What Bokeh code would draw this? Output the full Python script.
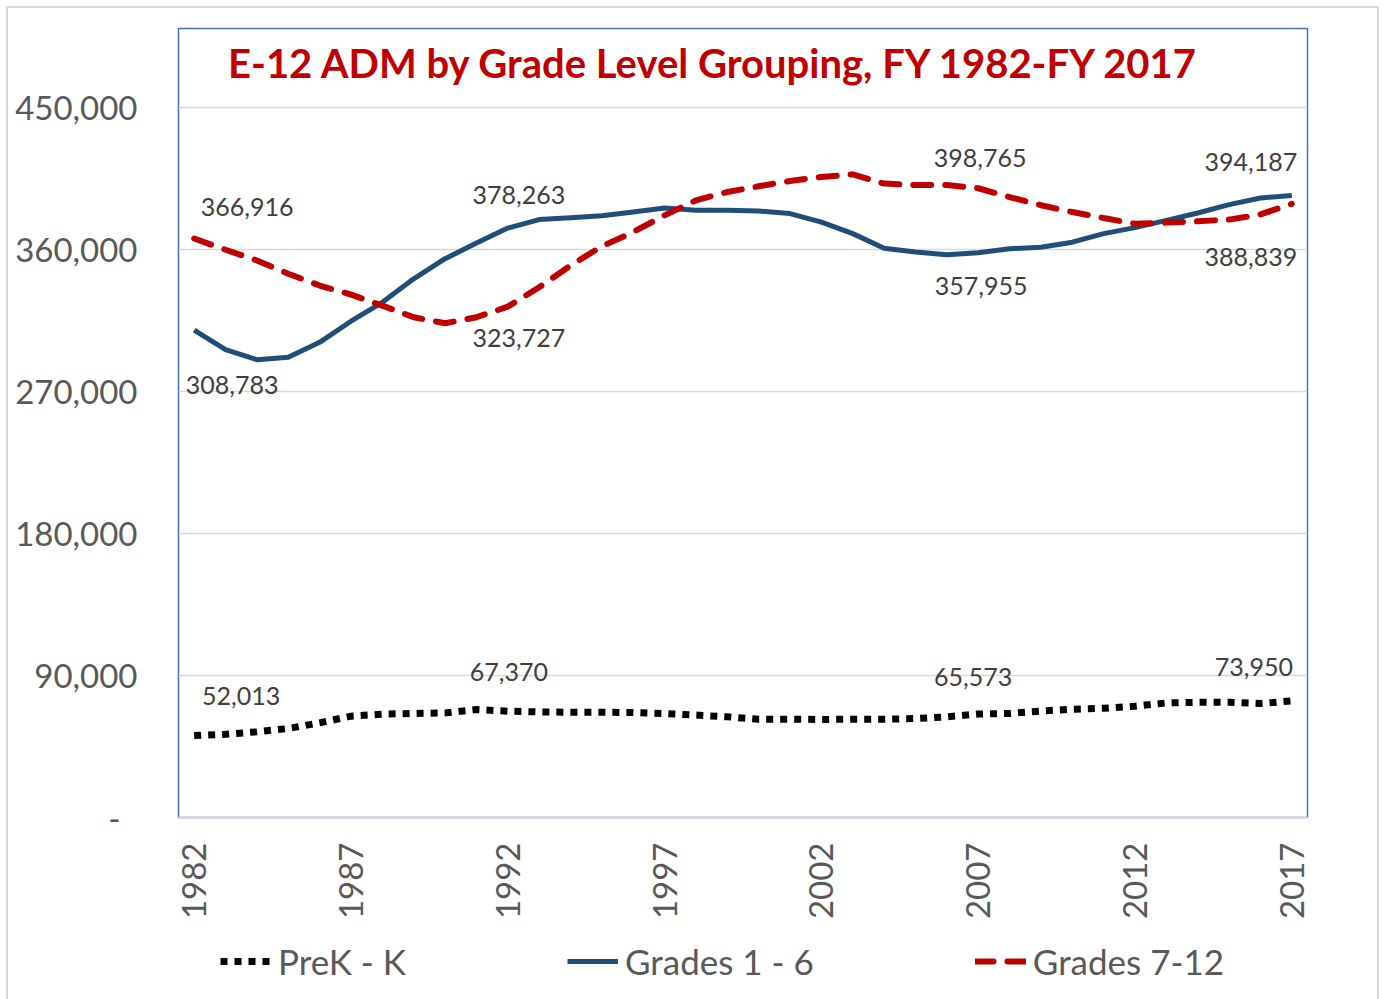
import math
from bokeh.plotting import figure
from bokeh.layouts import column
from bokeh.models import (ColumnDataSource, FixedTicker, NumeralTickFormatter,
                          Legend, LegendItem, Label, Range1d)
from bokeh.embed import file_html
from bokeh.resources import INLINE
from bokeh.core.properties import value

# ---------------- data ----------------
years = list(range(1982, 2018))

prek_k = [52013, 52700, 54300, 56400, 60000, 64200, 65500, 65900, 66300, 68400,
          67370, 66900, 66700, 66700, 66500, 65900, 64900, 63800, 62300, 62300,
          62100, 62300, 62300, 62700, 63800, 65573, 65900, 67500, 68600, 69200,
          70500, 72600, 73000, 73000, 72200, 73950]

grades_1_6 = [308783, 296500, 290100, 291600, 301100, 314500, 326500, 341400, 354100, 364000,
              373500, 378900, 380100, 381300, 383700, 386200, 384800, 384800, 384300, 382700,
              377300, 370000, 360800, 358300, 356600, 357955, 360400, 361400, 364600, 370000,
              373800, 378400, 383100, 388400, 392600, 394187]

grades_7_12 = [366916, 359800, 353000, 344600, 337100, 331400, 324400, 317000, 313200, 317000,
               323727, 336000, 349800, 362000, 371000, 381600, 391100, 396400, 400000, 403400,
               405900, 407600, 401700, 400800, 400800, 398765, 393200, 388000, 383700, 379900,
               376300, 377000, 377800, 378900, 382200, 388839]

series_names = ["PreK - K", "Grades 1 - 6", "Grades 7-12"]

# data labels: (series index, year, labelled value)
label_series = [2, 1, 1, 2, 2, 1, 1, 2, 0, 0, 0, 0]
label_years = [1982, 1982, 1992, 1992, 2007, 2007, 2017, 2017, 1982, 1992, 2007, 2017]
label_values = [366916, 308783, 378263, 323727, 398765, 357955, 394187, 388839,
                52013, 67370, 65573, 73950]

y_ticks = [0, 90000, 180000, 270000, 360000, 450000]
x_ticks = [1982, 1987, 1992, 1997, 2002, 2007, 2012, 2017]
title_text = "E-12 ADM by Grade Level Grouping, FY 1982-FY 2017"

# ---------------- styling ----------------
FONT = "Lato"
AXIS_COLOR = "#595959"
LABEL_COLOR = "#404040"
GRID = "#d9d9d9"
C_PREK = "black"
C_G16 = "#1F4E79"
C_G712 = "#C00000"

# pixel offsets of data labels relative to their point (screen px, +down)
label_dx = [53, 38, 11, 11, 2, 3, -41, -41, 47, 1, -5, -38]
label_dy = [-32, 55, -33, 31, -30, 33, -33, 53, -39, -39, -37, -34]

W = 1369
p = figure(width=W, height=914, output_backend="svg", toolbar_location=None,
           x_range=Range1d(1981.5, 2017.5), y_range=Range1d(0, 500000),
           min_border_left=170, min_border_right=70, min_border_top=20,
           min_border_bottom=104)
p.background_fill_color = "white"
p.border_fill_color = "white"
p.outline_line_color = "#4472C4"
p.outline_line_width = 1.5

p.xgrid.visible = False
p.ygrid.grid_line_color = GRID
p.ygrid.grid_line_width = 1.5

# y axis
p.yaxis.ticker = FixedTicker(ticks=y_ticks)
p.yaxis.formatter = NumeralTickFormatter(format="0,0")
p.yaxis.major_label_overrides = {0: "-\u00a0\u00a0"}
p.yaxis.axis_line_color = None
p.yaxis.major_tick_line_color = None
p.yaxis.minor_tick_line_color = None
p.yaxis.major_label_text_font = FONT
p.yaxis.major_label_text_font_size = "33px"
p.yaxis.major_label_text_color = AXIS_COLOR
p.yaxis.major_label_standoff = 35

# x axis
p.xaxis.ticker = FixedTicker(ticks=x_ticks)
p.xaxis.major_label_orientation = math.pi / 2
p.xaxis.axis_line_color = GRID
p.xaxis.axis_line_width = 2
p.xaxis.major_tick_line_color = None
p.xaxis.minor_tick_line_color = None
p.xaxis.major_label_text_font = FONT
p.xaxis.major_label_text_font_size = "33px"
p.xaxis.major_label_text_color = AXIS_COLOR
p.xaxis.major_label_standoff = 19

src = ColumnDataSource(dict(year=years, prek=prek_k, g16=grades_1_6, g712=grades_7_12))

prek_style = dict(line_color=C_PREK, line_width=7, line_dash="7 7", line_cap="butt")
g16_style = dict(line_color=C_G16, line_width=5, line_join="round")
g712_style = dict(line_color=C_G712, line_width=6, line_dash="18 14", line_cap="round")

p.line("year", "prek", source=src, **prek_style)
p.line("year", "g16", source=src, **g16_style)
p.line("year", "g712", source=src, **g712_style)

# data labels
all_series = [prek_k, grades_1_6, grades_7_12]
lx = label_years
ly = [all_series[s][years.index(yr)] for s, yr in zip(label_series, label_years)]
lt = [f"{v:,}" for v in label_values]
lsrc = ColumnDataSource(dict(x=lx, y=ly, text=lt, dx=label_dx, dy=label_dy))
p.text(x="x", y="y", text="text", x_offset="dx", y_offset="dy", source=lsrc,
       text_font=value(FONT), text_font_size="25px", text_color=LABEL_COLOR,
       text_align="center", text_baseline="middle")

# title inside plot area
p.add_layout(Label(x=1998.6, y=478000, text=title_text, text_font=FONT,
                   text_font_size="40px", text_font_style="bold",
                   text_color="#C00000", text_align="center",
                   text_baseline="middle"))

# ---------------- legend strip ----------------
q = figure(width=W, height=78, output_backend="svg", toolbar_location=None,
           x_range=Range1d(0, 1), y_range=Range1d(0, 1),
           x_axis_location=None, y_axis_location=None,
           min_border_left=170, min_border_right=70,
           min_border_top=0, min_border_bottom=0)
q.outline_line_color = None
q.grid.visible = False
q.background_fill_color = "white"
q.border_fill_color = "white"
# single-point sample renderers: they draw nothing in the strip, only legend swatches
lr0 = q.line(x=[0.5], y=[0.5], **prek_style)
lr1 = q.line(x=[0.5], y=[0.5], **g16_style)
lr2 = q.line(x=[0.5], y=[0.5], **g712_style)

legend = Legend(items=[LegendItem(label=series_names[0], renderers=[lr0]),
                       LegendItem(label=series_names[1], renderers=[lr1]),
                       LegendItem(label=series_names[2], renderers=[lr2])],
                orientation="horizontal", location=(42, 18),
                label_text_font=FONT, label_text_font_size="35px",
                label_text_color=AXIS_COLOR, glyph_width=51, glyph_height=20,
                label_height=40, label_standoff=7, spacing=161, padding=0,
                margin=0, border_line_color=None, background_fill_alpha=0)
q.add_layout(legend, "center")

layout = column(p, q, spacing=0,
                styles={"border": "2px solid #d9d9d9", "margin-left": "6px",
                        "margin-top": "6px"})

open("out.html", "w").write(file_html(layout, INLINE))
